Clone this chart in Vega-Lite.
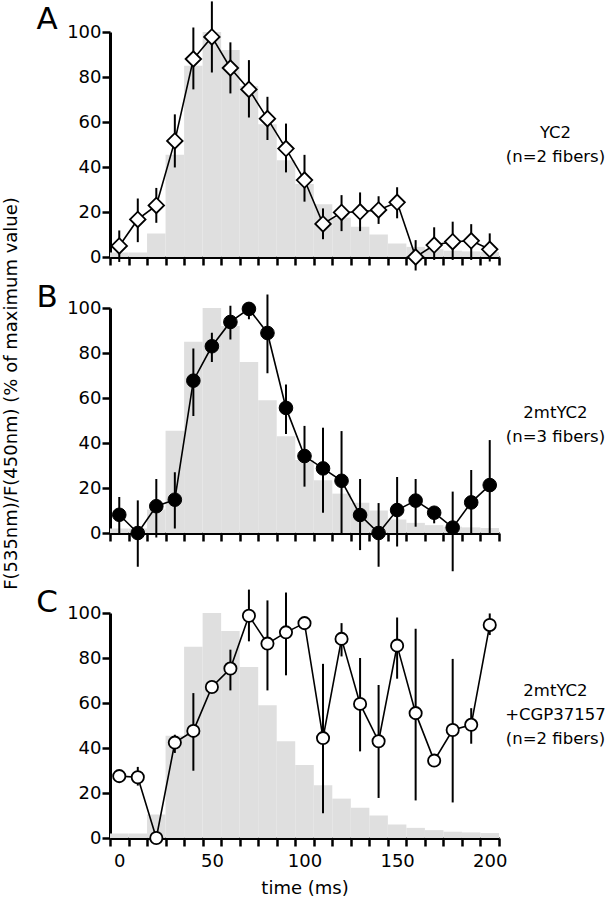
{
  "$schema": "https://vega.github.io/schema/vega-lite/v6.json",
  "autosize": {"type": "none"},
  "padding": {"left": 110, "top": 32, "right": 501, "bottom": 867},
  "background": "white",
  "config": {
    "font": "DejaVu Sans",
    "view": {"stroke": null},
    "axis": {
      "grid": false,
      "domainColor": "black",
      "domainWidth": 3,
      "tickColor": "black",
      "tickWidth": 2.5,
      "tickSize": 8,
      "labelColor": "black",
      "labelFontSize": 18,
      "labelPadding": 1,
      "titleColor": "black",
      "titleFontSize": 18,
      "titleFontWeight": "normal"
    }
  },
  "datasets": {
    "hist": [
      {"x0": -5, "x1": 5, "v": 2},
      {"x0": 5, "x1": 15, "v": 2},
      {"x0": 15, "x1": 25, "v": 10.5},
      {"x0": 25, "x1": 35, "v": 45.5},
      {"x0": 35, "x1": 45, "v": 85},
      {"x0": 45, "x1": 55, "v": 100},
      {"x0": 55, "x1": 65, "v": 92},
      {"x0": 65, "x1": 75, "v": 76},
      {"x0": 75, "x1": 85, "v": 59},
      {"x0": 85, "x1": 95, "v": 43},
      {"x0": 95, "x1": 105, "v": 32.5},
      {"x0": 105, "x1": 115, "v": 23.5},
      {"x0": 115, "x1": 125, "v": 17.5},
      {"x0": 125, "x1": 135, "v": 13.5},
      {"x0": 135, "x1": 145, "v": 10},
      {"x0": 145, "x1": 155, "v": 6},
      {"x0": 155, "x1": 165, "v": 4.5},
      {"x0": 165, "x1": 175, "v": 3.5},
      {"x0": 175, "x1": 185, "v": 2.8},
      {"x0": 185, "x1": 195, "v": 2.5},
      {"x0": 195, "x1": 205, "v": 2.2}
    ],
    "A": [
      {"t": 0, "v": 4.9, "lo": -2.2, "hi": 11.8},
      {"t": 10, "v": 16.7, "lo": 6.6, "hi": 26},
      {"t": 20, "v": 22.9, "lo": 15.2, "hi": 30.7},
      {"t": 30, "v": 51.6, "lo": 39.8, "hi": 63.4},
      {"t": 40, "v": 88, "lo": 74.5, "hi": 102},
      {"t": 50, "v": 97.8, "lo": 82, "hi": 113.6},
      {"t": 60, "v": 84, "lo": 72.7, "hi": 95.4},
      {"t": 70, "v": 74.5, "lo": 62, "hi": 87.5},
      {"t": 80, "v": 61.5, "lo": 52, "hi": 71.2},
      {"t": 90, "v": 48.2, "lo": 37.6, "hi": 59.3},
      {"t": 100, "v": 34.2, "lo": 24.6, "hi": 45.4},
      {"t": 110, "v": 14.7, "lo": 7.9, "hi": 21.6},
      {"t": 120, "v": 19.8, "lo": 11.5, "hi": 27.5},
      {"t": 130, "v": 20.1, "lo": 11.5, "hi": 28.7},
      {"t": 140, "v": 20.9, "lo": 14.7, "hi": 27},
      {"t": 150, "v": 24.3, "lo": 17.2, "hi": 31},
      {"t": 160, "v": 0, "lo": -6, "hi": 7.5},
      {"t": 170, "v": 5.3, "lo": -1.3, "hi": 13.2},
      {"t": 180, "v": 6.8, "lo": -1.3, "hi": 15.7},
      {"t": 190, "v": 7.2, "lo": -1.3, "hi": 14.6},
      {"t": 200, "v": 3.4, "lo": -2, "hi": 10.5}
    ],
    "B": [
      {"t": 0, "v": 8.1, "lo": 0, "hi": 16},
      {"t": 10, "v": 0, "lo": -15, "hi": 14.5},
      {"t": 20, "v": 11.9, "lo": -2, "hi": 24},
      {"t": 30, "v": 14.8, "lo": 2, "hi": 27},
      {"t": 40, "v": 67.7, "lo": 52, "hi": 82},
      {"t": 50, "v": 83, "lo": 76, "hi": 89},
      {"t": 60, "v": 93.8, "lo": 86, "hi": 101},
      {"t": 70, "v": 99.6, "lo": 95, "hi": 102},
      {"t": 80, "v": 88.9, "lo": 71, "hi": 106},
      {"t": 90, "v": 55.6, "lo": 44, "hi": 66},
      {"t": 100, "v": 34.2, "lo": 20.6, "hi": 47.6},
      {"t": 110, "v": 28.7, "lo": 9, "hi": 46.8},
      {"t": 120, "v": 23.2, "lo": 0, "hi": 45.3},
      {"t": 130, "v": 8, "lo": -7.6, "hi": 24},
      {"t": 140, "v": 0, "lo": -15, "hi": 13.3},
      {"t": 150, "v": 10.2, "lo": -6, "hi": 24.9},
      {"t": 160, "v": 14.4, "lo": 2.8, "hi": 24},
      {"t": 170, "v": 9, "lo": 4.3, "hi": 11.7},
      {"t": 180, "v": 2.4, "lo": -17, "hi": 18.4},
      {"t": 190, "v": 13.6, "lo": 0, "hi": 28},
      {"t": 200, "v": 21.3, "lo": 0, "hi": 41.3}
    ],
    "C": [
      {"t": 0, "v": 27.5, "lo": 27.5, "hi": 27.5},
      {"t": 10, "v": 27, "lo": 23.3, "hi": 31.6},
      {"t": 20, "v": 0, "lo": 0, "hi": 0},
      {"t": 30, "v": 42.4, "lo": 37.8, "hi": 45.9},
      {"t": 40, "v": 47.6, "lo": 29.9, "hi": 64.4},
      {"t": 50, "v": 67.1, "lo": 67.1, "hi": 67.1},
      {"t": 60, "v": 75.3, "lo": 65.6, "hi": 83.7},
      {"t": 70, "v": 98.8, "lo": 87.4, "hi": 110.4},
      {"t": 80, "v": 86.4, "lo": 65.6, "hi": 105.6},
      {"t": 90, "v": 91.4, "lo": 72.3, "hi": 109.1},
      {"t": 100, "v": 95.5, "lo": 95.5, "hi": 95.5},
      {"t": 110, "v": 44.4, "lo": 11, "hi": 77.4},
      {"t": 120, "v": 88.5, "lo": 80.7, "hi": 95.5},
      {"t": 130, "v": 59.6, "lo": 38.5, "hi": 80},
      {"t": 140, "v": 43, "lo": 17.8, "hi": 68},
      {"t": 150, "v": 85.5, "lo": 70.8, "hi": 98},
      {"t": 160, "v": 55.5, "lo": 16.7, "hi": 93},
      {"t": 170, "v": 34.4, "lo": 34.4, "hi": 34.4},
      {"t": 180, "v": 48, "lo": 15.8, "hi": 79.6},
      {"t": 190, "v": 50.3, "lo": 41.9, "hi": 57.7},
      {"t": 200, "v": 94.7, "lo": 90.2, "hi": 99.8}
    ]
  },
  "vconcat": [
    {
      "width": 389,
      "height": 225,
      "layer": [
        {
          "data": {"name": "hist"},
          "mark": {"type": "rect", "color": "#dfdfdf"},
          "encoding": {
            "x": {"field": "x0", "type": "quantitative", "scale": {"domain": [-5, 205], "nice": false, "zero": false},
              "axis": {"title": null, "labels": false, "tickCount": 100, "values": [-5,5,15,25,35,45,55,65,75,85,95,105,115,125,135,145,155,165,175,185,195,205]}},
            "x2": {"field": "x1"},
            "y": {"field": "v", "type": "quantitative", "scale": {"domain": [0, 100], "nice": false},
              "axis": {"title": null, "tickCount": 20, "values": [0,20,40,60,80,100]}},
            "y2": {"datum": 0}
          }
        },
        {
          "data": {"name": "A"},
          "mark": {"type": "rule", "color": "black", "strokeWidth": 2},
          "encoding": {"x": {"field": "t", "type": "quantitative"}, "y": {"field": "lo", "type": "quantitative"}, "y2": {"field": "hi"}}
        },
        {
          "data": {"name": "A"},
          "mark": {"type": "line", "color": "black", "strokeWidth": 1.6},
          "encoding": {"x": {"field": "t", "type": "quantitative"}, "y": {"field": "v", "type": "quantitative"}}
        },
        {
          "data": {"name": "A"},
          "mark": {"type": "point", "shape": "diamond", "filled": true, "fill": "white", "stroke": "black", "strokeWidth": 1.8, "size": 240, "opacity": 1},
          "encoding": {"x": {"field": "t", "type": "quantitative"}, "y": {"field": "v", "type": "quantitative"}}
        },
        {
          "data": {"values": [{}]},
          "mark": {"type": "text", "fontSize": 16.5, "align": "center", "baseline": "middle", "lineHeight": 24, "color": "black"},
          "encoding": {"x": {"datum": 235.5}, "y": {"datum": 55}, "text": {"value": ["YC2", "(n=2 fibers)"]}}
        },
        {
          "data": {"values": [{}]},
          "mark": {"type": "text", "fontSize": 31, "align": "center", "baseline": "alphabetic", "color": "black"},
          "encoding": {"x": {"datum": -39}, "y": {"datum": 101.5}, "text": {"value": "A"}}
        }
      ]
    },
    {
      "width": 389,
      "height": 225,
      "layer": [
        {
          "data": {"name": "hist"},
          "mark": {"type": "rect", "color": "#dfdfdf"},
          "encoding": {
            "x": {"field": "x0", "type": "quantitative", "scale": {"domain": [-5, 205], "nice": false, "zero": false},
              "axis": {"title": null, "labels": false, "tickCount": 100, "values": [-5,5,15,25,35,45,55,65,75,85,95,105,115,125,135,145,155,165,175,185,195,205]}},
            "x2": {"field": "x1"},
            "y": {"field": "v", "type": "quantitative", "scale": {"domain": [0, 100], "nice": false},
              "axis": {"title": "F(535nm)/F(450nm) (% of maximum value)", "tickCount": 20, "values": [0,20,40,60,80,100],
                "titleAngle": 270, "titleAlign": "center", "titleBaseline": "middle", "titleX": -99, "titleY": 85}},
            "y2": {"datum": 0}
          }
        },
        {
          "data": {"name": "B"},
          "mark": {"type": "rule", "color": "black", "strokeWidth": 2},
          "encoding": {"x": {"field": "t", "type": "quantitative"}, "y": {"field": "lo", "type": "quantitative"}, "y2": {"field": "hi"}}
        },
        {
          "data": {"name": "B"},
          "mark": {"type": "line", "color": "black", "strokeWidth": 1.6},
          "encoding": {"x": {"field": "t", "type": "quantitative"}, "y": {"field": "v", "type": "quantitative"}}
        },
        {
          "data": {"name": "B"},
          "mark": {"type": "point", "shape": "circle", "filled": true, "fill": "black", "stroke": "black", "strokeWidth": 1, "size": 185, "opacity": 1},
          "encoding": {"x": {"field": "t", "type": "quantitative"}, "y": {"field": "v", "type": "quantitative"}}
        },
        {
          "data": {"values": [{}]},
          "mark": {"type": "text", "fontSize": 16.5, "align": "center", "baseline": "middle", "lineHeight": 24, "color": "black"},
          "encoding": {"x": {"datum": 235.5}, "y": {"datum": 53.3}, "text": {"value": ["2mtYC2", "(n=3 fibers)"]}}
        },
        {
          "data": {"values": [{}]},
          "mark": {"type": "text", "fontSize": 31, "align": "center", "baseline": "alphabetic", "color": "black"},
          "encoding": {"x": {"datum": -39}, "y": {"datum": 100.5}, "text": {"value": "B"}}
        }
      ]
    },
    {
      "width": 389,
      "height": 254,
      "layer": [
        {
          "data": {"name": "hist"},
          "mark": {"type": "rect", "color": "#dfdfdf"},
          "encoding": {
            "x": {"field": "x0", "type": "quantitative", "scale": {"domain": [-5, 205], "nice": false, "zero": false},
              "axis": {"title": "time (ms)", "labelPadding": 6, "titlePadding": 9, "labelOverlap": false, "tickCount": 100,
                "values": [-5,0,5,10,15,20,25,30,35,40,45,50,55,60,65,70,75,80,85,90,95,100,105,110,115,120,125,130,135,140,145,150,155,160,165,170,175,180,185,190,195,200,205],
                "tickOpacity": {"condition": {"test": "datum.value % 10 === 0", "value": 0}, "value": 1},
                "labelExpr": "datum.value % 50 === 0 ? datum.label : ''"}},
            "x2": {"field": "x1"},
            "y": {"field": "v", "type": "quantitative", "scale": {"domain": [0, 100], "nice": false, "range": [254, 29]},
              "axis": {"title": null, "tickCount": 20, "values": [0,20,40,60,80,100]}},
            "y2": {"datum": 0}
          }
        },
        {
          "data": {"name": "C"},
          "mark": {"type": "rule", "color": "black", "strokeWidth": 2},
          "encoding": {"x": {"field": "t", "type": "quantitative"}, "y": {"field": "lo", "type": "quantitative"}, "y2": {"field": "hi"}}
        },
        {
          "data": {"name": "C"},
          "mark": {"type": "line", "color": "black", "strokeWidth": 1.6},
          "encoding": {"x": {"field": "t", "type": "quantitative"}, "y": {"field": "v", "type": "quantitative"}}
        },
        {
          "data": {"name": "C"},
          "mark": {"type": "point", "shape": "circle", "filled": true, "fill": "white", "stroke": "black", "strokeWidth": 1.8, "size": 150, "opacity": 1},
          "encoding": {"x": {"field": "t", "type": "quantitative"}, "y": {"field": "v", "type": "quantitative"}}
        },
        {
          "data": {"values": [{}]},
          "mark": {"type": "text", "fontSize": 16.5, "align": "center", "baseline": "middle", "lineHeight": 24, "color": "black"},
          "encoding": {"x": {"datum": 235.5}, "y": {"datum": 65.3}, "text": {"value": ["2mtYC2", "+CGP37157", "(n=2 fibers)"]}}
        },
        {
          "data": {"values": [{}]},
          "mark": {"type": "text", "fontSize": 31, "align": "center", "baseline": "alphabetic", "color": "black"},
          "encoding": {"x": {"datum": -39}, "y": {"datum": 100.5}, "text": {"value": "C"}}
        }
      ]
    }
  ],
  "spacing": 51,
  "bounds": "flush"
}
